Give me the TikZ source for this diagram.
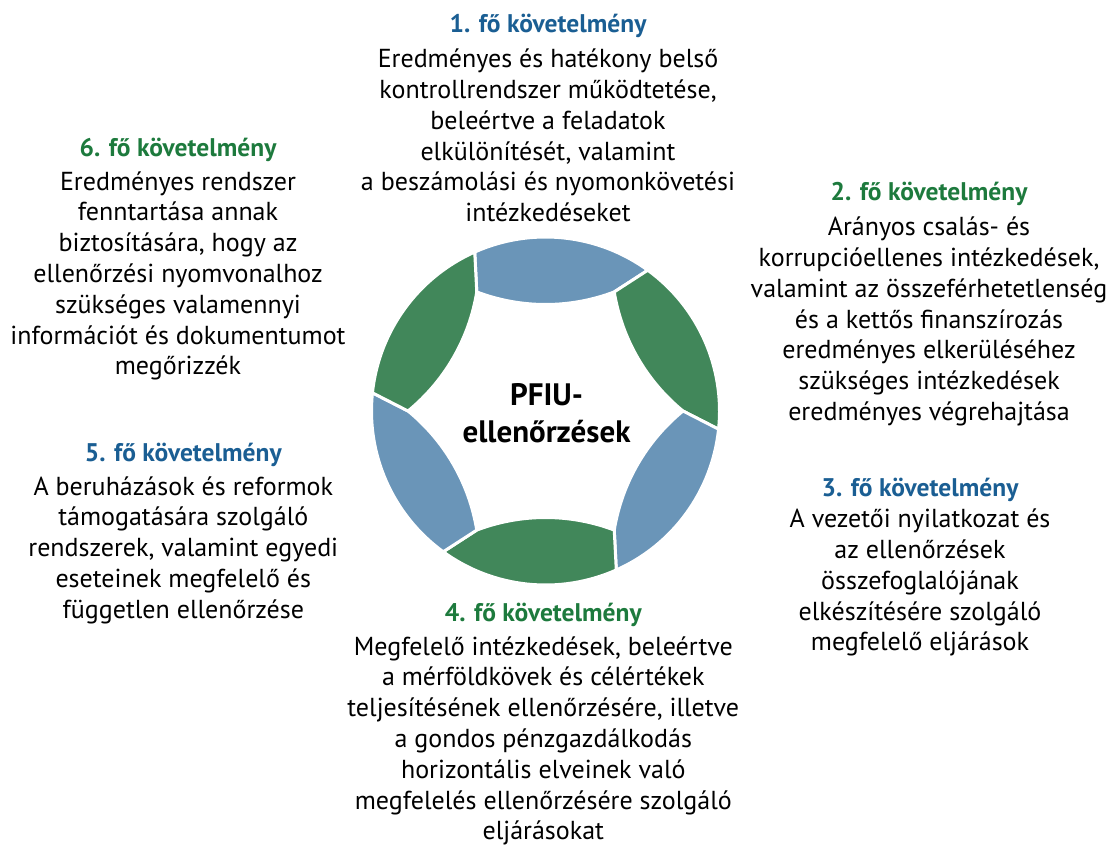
\documentclass[tikz,border=0pt]{standalone}
\usepackage{fontspec}
\setmainfont{PT Sans}
\definecolor{segblue}{HTML}{6A95B8}
\definecolor{seggreen}{HTML}{41875A}
\definecolor{hblue}{HTML}{1A5E93}
\definecolor{hgreen}{HTML}{1D7A3D}
\begin{document}
\begin{tikzpicture}[x=1pt,y=1pt,
  head/.style={font=\fontsize{25.5}{29}\selectfont\bfseries, anchor=base, inner sep=0pt},
  body/.style={font=\fontsize{26}{30}\selectfont, anchor=base, inner sep=0pt, text=black},
  centre/.style={font=\fontsize{31}{35}\selectfont\bfseries, anchor=base, inner sep=0pt, text=black},
  segment/.style={fill=#1, draw=white, line width=3pt, line join=round}]
\useasboundingbox (0,0) rectangle (1107,-851);
% ring
\begin{scope}[shift={(545.5,-411)}]
\foreach \t/\c in {90/segblue, 30/seggreen, -30/segblue, -90/seggreen, -150/segblue, 150/seggreen}{
  \path[segment=\c] (\t-36:174) arc[start angle=\t-36, end angle=\t+24, radius=174]
     -- (\t+30:137.5) arc[start angle=\t+159.26, end angle=\t+200.74, radius=194.15] -- cycle;
}
\end{scope}
% centre
\node[centre] (c1) at (546.5,-405) {PFIU-};
\node[centre] (c2) at (546.5,-442.3) {ellenőrzések};
% block 1
\node[head, text=hblue] (h1) at (548,-33) {1. fő követelmény};
\foreach \l [count=\i] in {Eredményes és hatékony belső, {kontrollrendszer működtetése,}, beleértve a feladatok, {elkülönítését, valamint}, a beszámolási és nyomonkövetési, intézkedéseket}
  \node[body] (b1-\i) at (548,{-67.7-30.8*(\i-1)}) {\l};
% block 2
\node[head, text=hgreen] (h2) at (929,-200) {2. fő követelmény};
\foreach \l [count=\i] in {Arányos csalás- és, {korrupcióellenes intézkedések,}, valamint az összeférhetetlenség, és a kettős finanszírozás, eredményes elkerüléséhez, szükséges intézkedések, eredményes végrehajtása}
  \node[body] (b2-\i) at (929,{-235.7-30.8*(\i-1)}) {\l};
% block 3
\node[head, text=hblue] (h3) at (920,-496) {3. fő követelmény};
\foreach \l [count=\i] in {A vezetői nyilatkozat és, az ellenőrzések, összefoglalójának, elkészítésére szolgáló, megfelelő eljárások}
  \node[body] (b3-\i) at (920,{-527.3-30.9*(\i-1)}) {\l};
% block 4
\node[head, text=hgreen] (h4) at (543.3,-621.7) {4. fő követelmény};
\foreach \l [count=\i] in {{Megfelelő intézkedések, beleértve}, a mérföldkövek és célértékek, {teljesítésének ellenőrzésére, illetve}, a gondos pénzgazdálkodás, horizontális elveinek való, megfelelés ellenőrzésére szolgáló, eljárásokat}
  \node[body] (b4-\i) at (543.3,{-655-30.83*(\i-1)}) {\l};
% block 5
\node[head, text=hblue] (h5) at (183.3,-461.7) {5. fő követelmény};
\foreach \l [count=\i] in {A beruházások és reformok, támogatására szolgáló, {rendszerek, valamint egyedi}, eseteinek megfelelő és, független ellenőrzése}
  \node[body] (b5-\i) at (183.3,{-495-30.83*(\i-1)}) {\l};
% block 6
\node[head, text=hgreen] (h6) at (178,-156.7) {6. fő követelmény};
\foreach \l [count=\i] in {Eredményes rendszer, fenntartása annak, {biztosítására, hogy az}, ellenőrzési nyomvonalhoz, szükséges valamennyi, információt és dokumentumot, megőrizzék}
  \node[body] (b6-\i) at (178,{-190-30.83*(\i-1)}) {\l};
\end{tikzpicture}
\end{document}
